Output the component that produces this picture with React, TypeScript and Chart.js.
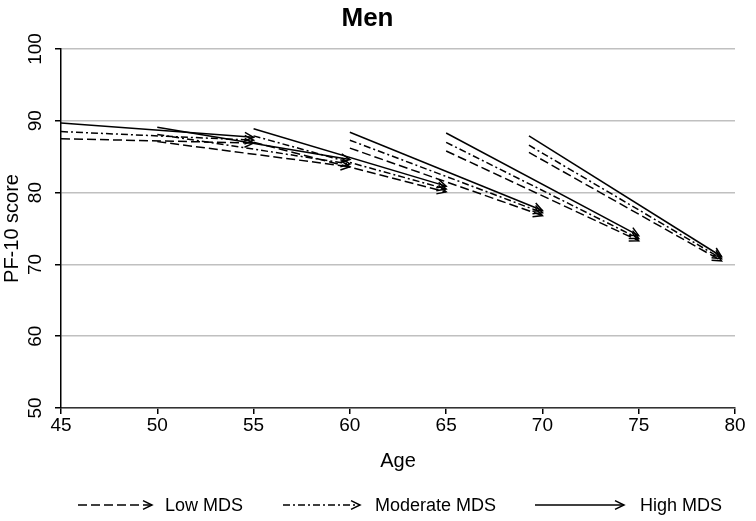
import React, { useEffect, useRef } from 'react';
import { Chart, registerables } from 'chart.js';

Chart.register(...registerables);

// Cohort segments: start age -> end age (10-year follow-up)
const startAges = [45, 50, 55, 60, 65, 69.3];
const endAges = [55, 60, 65, 70, 75, 79.3];

// PF-10 scores at start and end of each segment
const lowStart = [87.5, 87.1, 87.0, 86.2, 85.8, 85.6];
const lowEnd = [86.9, 83.6, 80.1, 76.8, 73.3, 70.5];
const modStart = [88.5, 88.1, 87.9, 87.3, 87.0, 86.6];
const modEnd = [87.3, 84.0, 80.5, 77.2, 73.6, 70.8];
const highStart = [89.7, 89.1, 88.9, 88.4, 88.3, 87.9];
const highEnd = [87.7, 84.6, 80.9, 77.5, 74.0, 71.1];

const seriesLabels = ['Low MDS', 'Moderate MDS', 'High MDS'];
const xTicks = [45, 50, 55, 60, 65, 70, 75, 80];
const yTicks = [50, 60, 70, 80, 90, 100];

const FONT = 'Liberation Sans, Arial, Helvetica, sans-serif';
const dashes: number[][] = [[9, 4], [7, 3, 2, 3], []];

function drawArrowHead(ctx: CanvasRenderingContext2D, x0: number, y0: number, x1: number, y1: number) {
  const a = Math.atan2(y1 - y0, x1 - x0);
  const len = 10;
  const th = (26 * Math.PI) / 180;
  ctx.beginPath();
  ctx.moveTo(x1 - len * Math.cos(a - th), y1 - len * Math.sin(a - th));
  ctx.lineTo(x1, y1);
  ctx.lineTo(x1 - len * Math.cos(a + th), y1 - len * Math.sin(a + th));
  ctx.stroke();
}

const arrowPlugin = {
  id: 'arrowHeads',
  afterDatasetsDraw(chart: any) {
    const ctx = chart.ctx as CanvasRenderingContext2D;
    ctx.save();
    ctx.setLineDash([]);
    ctx.strokeStyle = '#000';
    ctx.lineWidth = 1.5;
    chart.data.datasets.forEach((_: any, i: number) => {
      const meta = chart.getDatasetMeta(i);
      const pts = meta.data;
      if (pts.length < 2) return;
      const p0 = pts[pts.length - 2];
      const p1 = pts[pts.length - 1];
      drawArrowHead(ctx, p0.x, p0.y, p1.x, p1.y);
    });
    ctx.restore();
  },
};

const legendPlugin = {
  id: 'customLegend',
  afterDraw(chart: any) {
    const ctx = chart.ctx as CanvasRenderingContext2D;
    const y = 505;
    const items = [
      { x0: 78, x1: 152, tx: 165 },
      { x0: 283, x1: 360, tx: 375 },
      { x0: 535, x1: 624, tx: 640 },
    ];
    ctx.save();
    items.forEach((it, i) => {
      ctx.strokeStyle = '#000';
      ctx.lineWidth = 1.5;
      ctx.setLineDash(dashes[i]);
      ctx.beginPath();
      ctx.moveTo(it.x0, y);
      ctx.lineTo(it.x1, y);
      ctx.stroke();
      ctx.setLineDash([]);
      drawArrowHead(ctx, it.x0, y, it.x1, y);
      ctx.fillStyle = '#000';
      ctx.font = `18px ${FONT}`;
      ctx.textAlign = 'left';
      ctx.textBaseline = 'middle';
      ctx.fillText(seriesLabels[i], it.tx, y + 1);
    });
    ctx.restore();
  },
};

export default function App() {
  const ref = useRef<HTMLCanvasElement | null>(null);

  useEffect(() => {
    document.body.style.margin = '0';
    document.body.style.overflow = 'hidden';
    if (!ref.current) return;
    const groups = [
      { s: lowStart, e: lowEnd },
      { s: modStart, e: modEnd },
      { s: highStart, e: highEnd },
    ];
    const datasets: any[] = [];
    groups.forEach((g, gi) => {
      startAges.forEach((age, k) => {
        datasets.push({
          label: `${seriesLabels[gi]} ${k}`,
          data: [
            { x: age, y: g.s[k] },
            { x: endAges[k], y: g.e[k] },
          ],
          borderColor: '#000',
          borderWidth: 1.5,
          borderDash: dashes[gi],
          pointRadius: 0,
          fill: false,
          tension: 0,
        });
      });
    });

    const chart = new Chart(ref.current, {
      type: 'line',
      data: { datasets },
      plugins: [arrowPlugin, legendPlugin],
      options: {
        responsive: false,
        animation: false,
        events: [],
        layout: { padding: { left: 0, right: 21, top: 0, bottom: 43 } },
        plugins: {
          legend: { display: false },
          tooltip: { enabled: false },
          title: {
            display: true,
            text: 'Men',
            color: '#000',
            font: { family: FONT, size: 26, weight: 'bold' },
            padding: { top: 3, bottom: 14.8 },
          },
        },
        scales: {
          x: {
            type: 'linear',
            min: 45,
            max: 80,
            afterBuildTicks: (s: any) => {
              s.ticks = xTicks.map((v) => ({ value: v }));
            },
            ticks: {
              color: '#000',
              font: { family: FONT, size: 19 },
              padding: 0,
              maxRotation: 0,
            },
            grid: { drawOnChartArea: false, drawTicks: true, tickLength: 6, tickColor: '#000', lineWidth: 1.5 },
            border: { color: '#333', width: 1.5 },
            title: {
              display: true,
              text: 'Age',
              color: '#000',
              font: { family: FONT, size: 20 },
              padding: { top: 0, bottom: 5 },
            },
            afterFit: (s: any) => {
              s.height = 70;
            },
          },
          y: {
            min: 50,
            max: 100,
            afterBuildTicks: (s: any) => {
              s.ticks = yTicks.map((v) => ({ value: v }));
            },
            ticks: {
              color: '#000',
              font: { family: FONT, size: 19 },
              minRotation: 90,
              maxRotation: 90,
              crossAlign: 'center',
              padding: 3,
            },
            grid: { color: '#c0c0c0', lineWidth: 1.5, drawTicks: true, tickLength: 6, tickColor: '#000' },
            border: { color: '#000', width: 1.5 },
            title: {
              display: true,
              text: 'PF-10 score',
              color: '#000',
              font: { family: FONT, size: 20 },
              padding: { top: 0, bottom: 0 },
            },
            afterFit: (s: any) => {
              s.width = 61;
            },
          },
        },
      } as any,
    });
    return () => chart.destroy();
  }, []);

  return <canvas ref={ref} width={756} height={521} style={{ display: 'block' }} />;
}
